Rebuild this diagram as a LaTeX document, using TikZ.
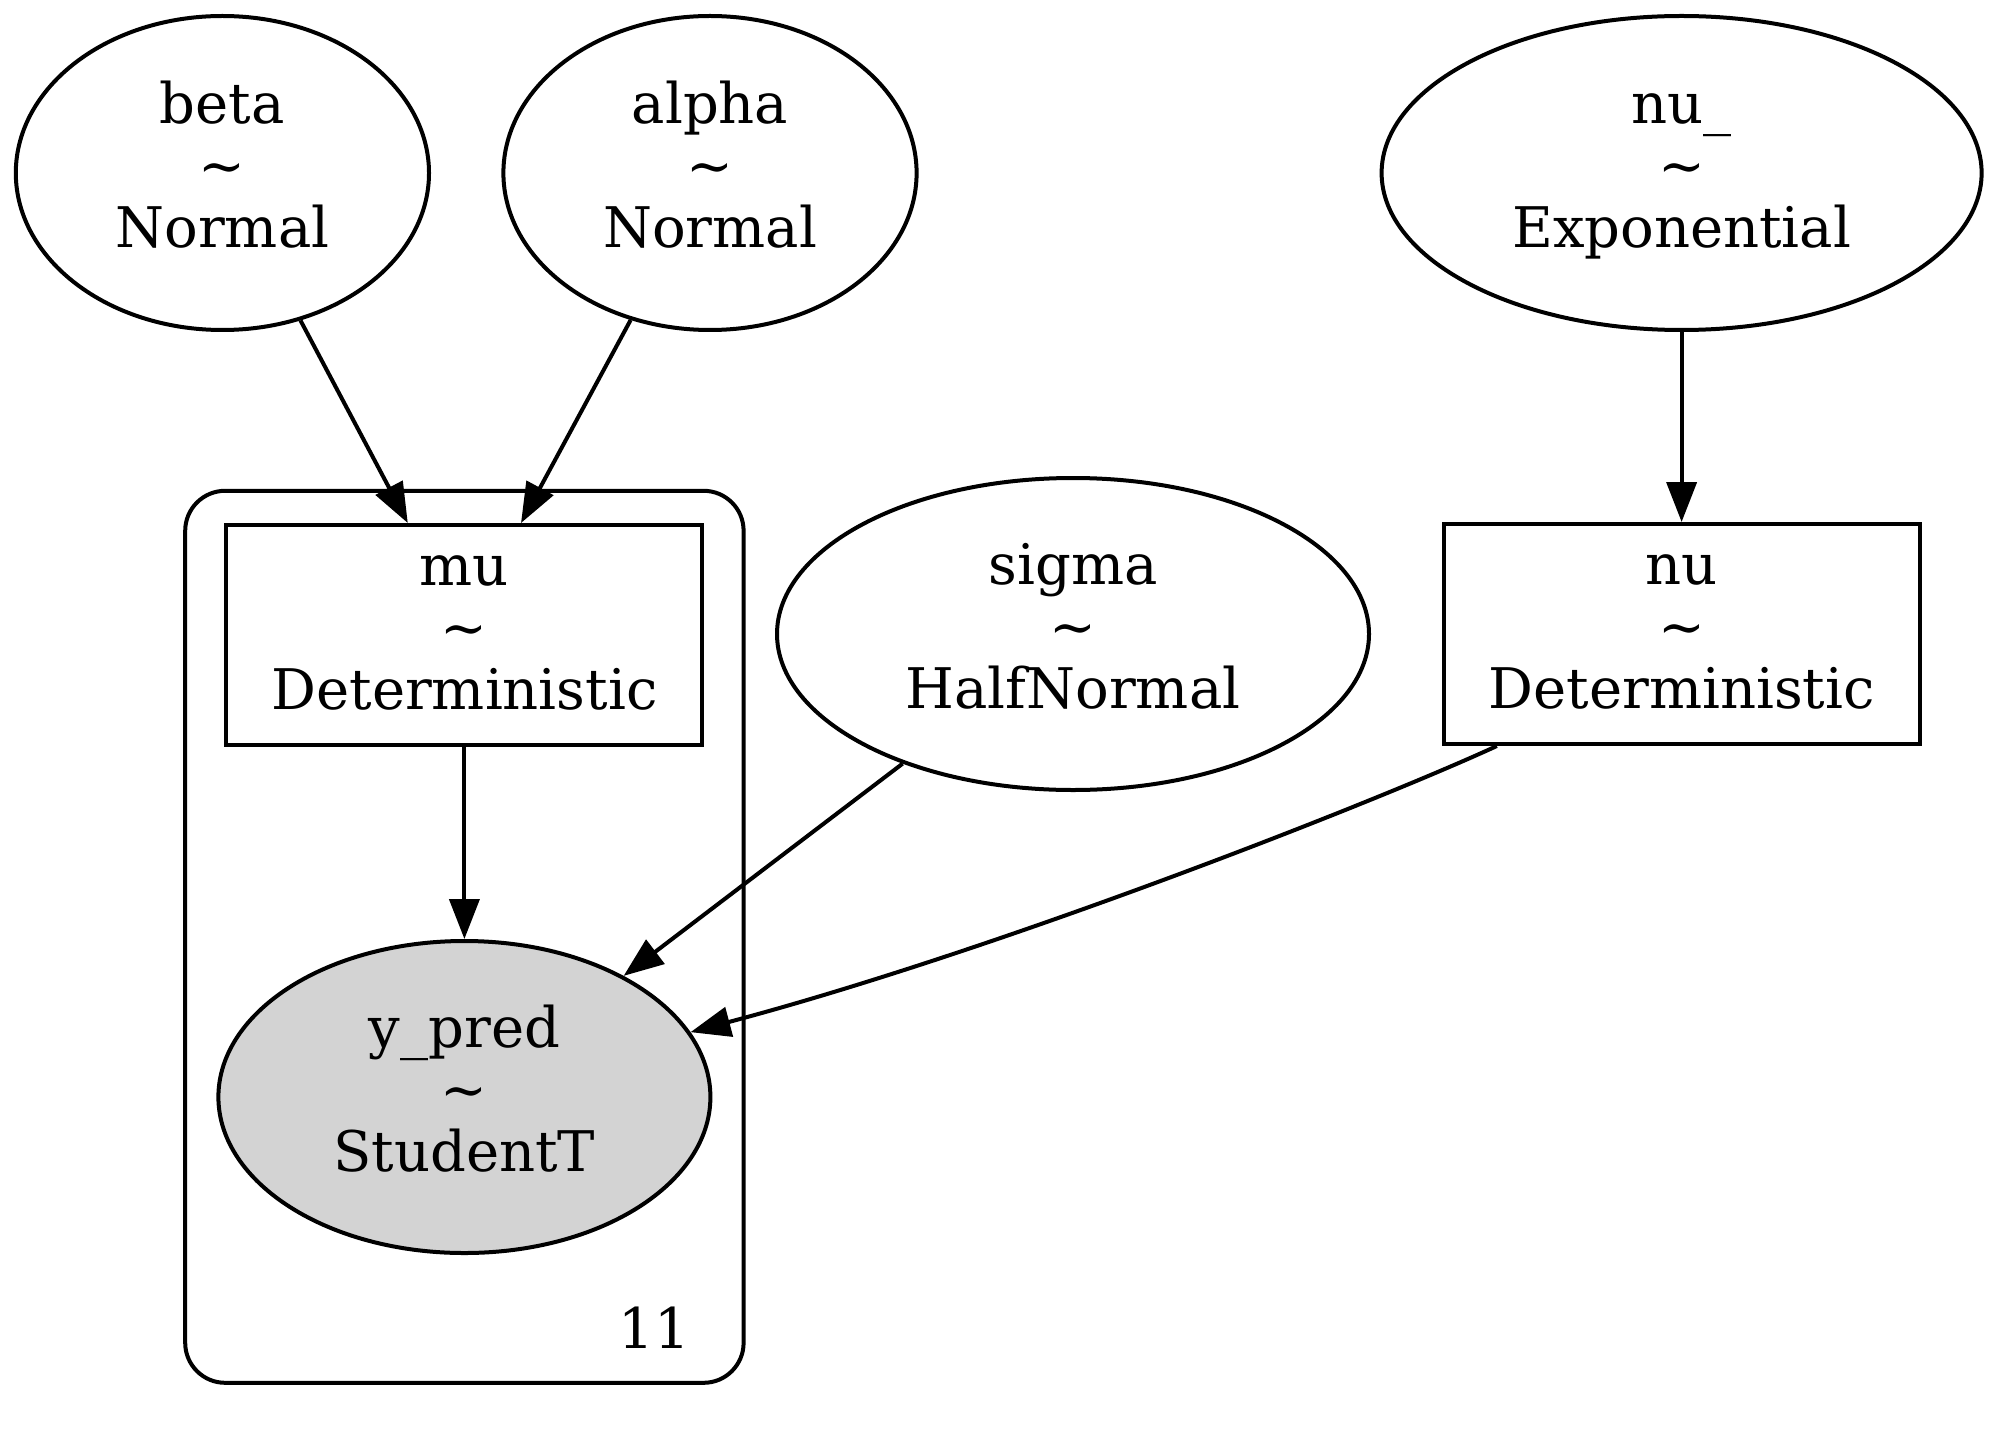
\documentclass[tikz,border=0pt]{standalone}
\usepackage{fontspec}
\setmainfont{DejaVu Serif}
\usetikzlibrary{shapes.geometric,arrows.meta,calc}
\definecolor{gvgray}{HTML}{D3D3D3}
\tikzset{
  every node/.style={font=\fontsize{14pt}{15.6pt}\selectfont},
  rv/.style={draw, ellipse, line width=1pt, inner sep=0pt, align=center},
  det/.style={draw, rectangle, line width=1pt, inner sep=0pt, align=center, minimum width=119pt, minimum height=55pt},
  obs/.style={rv, fill=gvgray},
  plate/.style={draw, rectangle, rounded corners=10pt, line width=1pt, inner sep=0pt},
  edge/.style={line width=1pt, -{Triangle[length=10pt,width=7.5pt]}}
}
\begin{document}
\begin{tikzpicture}[x=1pt,y=-1pt]
\useasboundingbox (0,0) rectangle (499.5,358.25);
% plate
\node[plate, minimum width=139.6pt, minimum height=223pt] (platebox) at (116.1,234.2) {};
\node[anchor=base east] (platelabel) at (176,337) {11};
% nodes
\node[rv, minimum width=103.3pt, minimum height=78.5pt] (beta) at (55.6,43.25) {beta\strut\\\textasciitilde\strut\\Normal\strut};
\node[rv, minimum width=103.3pt, minimum height=78.5pt] (alpha) at (177.5,43.25) {alpha\strut\\\textasciitilde\strut\\Normal\strut};
\node[rv, minimum width=150pt, minimum height=78.5pt] (nuraw) at (420.4,43.25) {nu\_\strut\\\textasciitilde\strut\\Exponential\strut};
\node[det] (mu) at (116.1,158.75) {mu\strut\\\textasciitilde\strut\\Deterministic\strut};
\node[rv, minimum width=148pt, minimum height=78pt] (sigma) at (268.25,158.5) {sigma\strut\\\textasciitilde\strut\\HalfNormal\strut};
\node[det] (nu) at (420.4,158.5) {nu\strut\\\textasciitilde\strut\\Deterministic\strut};
\node[obs, minimum width=123pt, minimum height=78pt] (ypred) at (116.1,274.25) {y\_pred\strut\\\textasciitilde\strut\\StudentT\strut};
% edges
\draw[edge] (beta) -- ($(mu.north west)!0.382!(mu.north east)$);
\draw[edge] (alpha) -- ($(mu.north west)!0.618!(mu.north east)$);
\draw[edge] (nuraw) -- (nu);
\draw[edge] (mu) -- (ypred);
\draw[edge] (sigma) -- (ypred);
\draw[edge] ($(nu.south west)!0.115!(nu.south east)$) .. controls (345,200) and (250,237.5) .. (ypred.16);
\end{tikzpicture}
\end{document}
